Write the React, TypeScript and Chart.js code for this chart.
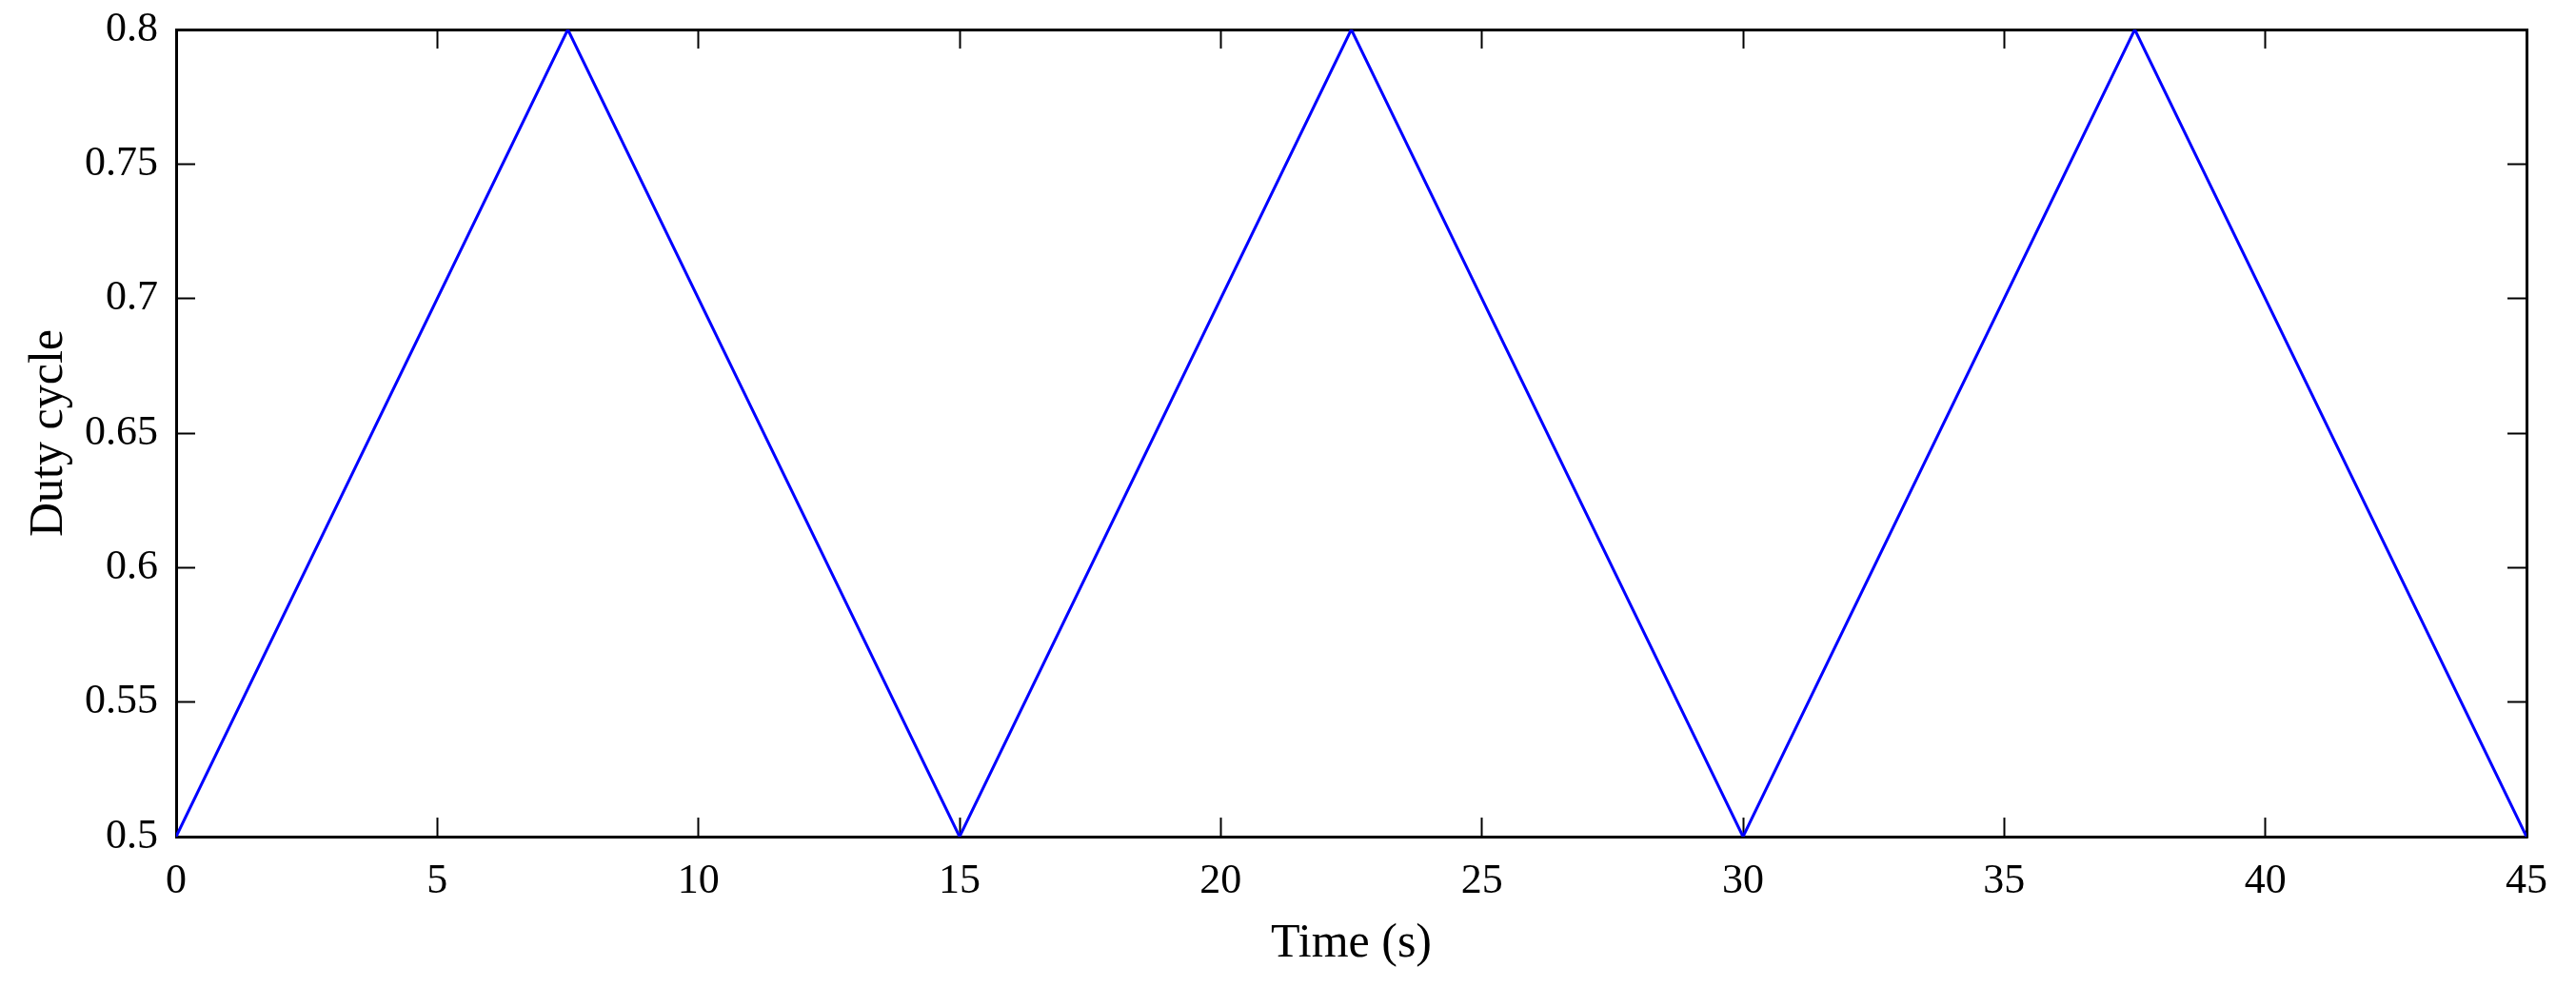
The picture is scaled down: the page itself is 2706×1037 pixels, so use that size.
import React, { useEffect, useRef } from "react";
import { Chart, registerables } from "chart.js";

Chart.register(...registerables);

const timeValues = [0, 7.5, 15, 22.5, 30, 37.5, 45];
const dutyValues = [0.5, 0.8, 0.5, 0.8, 0.5, 0.8, 0.5];
const yTickLabels = ["0.5", "0.55", "0.6", "0.65", "0.7", "0.75", "0.8"];
const xTickLabels = ["0", "5", "10", "15", "20", "25", "30", "35", "40", "45"];

const W = 2706;
const H = 1037;
const SERIF = "'Liberation Serif', 'Times New Roman', serif";

function zeroPad(s: any) {
  s.paddingTop = 0;
  s.paddingBottom = 0;
  s.paddingLeft = 0;
  s.paddingRight = 0;
}

export default function App() {
  const ref = useRef<HTMLCanvasElement | null>(null);

  useEffect(() => {
    const canvas = ref.current;
    if (!canvas) return;
    const tickFont = { family: SERIF, size: 44 };
    const titleFont = { family: SERIF, size: 50 };
    const border = { display: true, color: "#000", width: 3 };
    const grid = {
      drawOnChartArea: false,
      drawTicks: true,
      tickLength: -20,
      tickWidth: 2,
      tickColor: "#000",
    };
    const chart = new Chart(canvas, {
      type: "line",
      data: {
        datasets: [
          {
            data: timeValues.map((t, i) => ({ x: t, y: dutyValues[i] })),
            borderColor: "#0000FF",
            borderWidth: 3,
            pointRadius: 0,
            fill: false,
            tension: 0,
          },
        ],
      },
      options: {
        animation: false,
        responsive: false,
        events: [],
        layout: { padding: 0 },
        plugins: {
          legend: { display: false },
          tooltip: { enabled: false },
          title: { display: false },
        },
        scales: {
          x: {
            type: "linear",
            position: "bottom",
            min: 0,
            max: 45,
            border,
            grid,
            ticks: {
              stepSize: 5,
              color: "#000",
              font: tickFont,
              padding: 41,
              maxRotation: 0,
              autoSkip: false,
              callback: (_v: any, i: number) => xTickLabels[i],
            },
            title: {
              display: true,
              text: "Time (s)",
              color: "#000",
              font: titleFont,
              padding: { top: 0, bottom: 15 },
            },
            afterFit: (s: any) => {
              s.height = 158;
              zeroPad(s);
            },
          },
          x2: {
            type: "linear",
            position: "top",
            min: 0,
            max: 45,
            border,
            grid,
            ticks: { stepSize: 5, display: false },
            afterFit: (s: any) => {
              s.height = 31;
              zeroPad(s);
            },
          },
          y: {
            type: "linear",
            position: "left",
            min: 0.5,
            max: 0.8,
            border,
            grid,
            ticks: {
              stepSize: 0.05,
              color: "#000",
              font: tickFont,
              padding: 39,
              autoSkip: false,
              callback: (_v: any, i: number) => yTickLabels[i],
            },
            title: {
              display: true,
              text: "Duty cycle",
              color: "#000",
              font: titleFont,
              padding: { top: 22, bottom: 0 },
            },
            afterFit: (s: any) => {
              s.width = 185;
              zeroPad(s);
            },
          },
          y2: {
            type: "linear",
            position: "right",
            min: 0.5,
            max: 0.8,
            border,
            grid,
            ticks: { stepSize: 0.05, display: false },
            afterFit: (s: any) => {
              s.width = 52;
              zeroPad(s);
            },
          },
        },
      } as any,
    });
    return () => chart.destroy();
  }, []);

  return (
    <div style={{ position: "fixed", left: 0, top: 0, width: W, height: H, background: "#fff" }}>
      <canvas ref={ref} width={W} height={H} style={{ width: W, height: H, display: "block" }} />
    </div>
  );
}
